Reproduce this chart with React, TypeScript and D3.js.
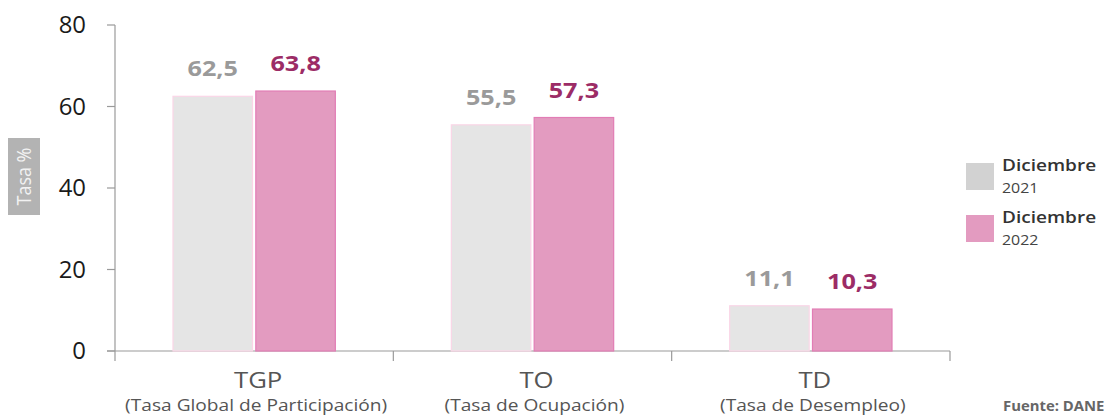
import React from "react";
import * as d3 from "d3";

const categories = ["TGP", "TO", "TD"];
const subtitles = ["(Tasa Global de Participación)", "(Tasa de Ocupación)", "(Tasa de Desempleo)"];
const series = ["Diciembre 2021", "Diciembre 2022"];
const legendLines = [["Diciembre", "2021"], ["Diciembre", "2022"]];
const values2021 = [62.5, 55.5, 11.1];
const values2022 = [63.8, 57.3, 10.3];
const yTicks = [0, 20, 40, 60, 80];

const fills = ["#e5e5e5", "#e39bc0"];
const strokes = ["#fad6e7", "#e27db5"];
const labelColors = ["#9a9a9a", "#9c2c66"];

const W = 1107;
const H = 418;
const FONT = "'Open Sans', 'Noto Sans', sans-serif";

type STProps = {
  x: number;
  y: number;
  sx?: number;
  anchor?: "start" | "middle" | "end";
  size: number;
  weight?: number;
  fill: string;
  dy?: string;
  children: React.ReactNode;
};

function ST({ x, y, sx = 1.15, anchor = "start", size, weight = 400, fill, dy, children }: STProps) {
  return (
    <g transform={`translate(${x},${y}) scale(${sx},1)`}>
      <text textAnchor={anchor} fontSize={size} fontWeight={weight} fill={fill} dy={dy}>
        {children}
      </text>
    </g>
  );
}

export default function App() {
  const x0 = d3.scaleBand<string>().domain(categories).range([115, 950]);
  const bw = x0.bandwidth();
  const x1 = d3
    .scaleBand<string>()
    .domain(series)
    .range([58, bw - 58])
    .paddingInner(0.04);
  const y = d3.scaleLinear().domain([0, 80]).range([351, 25]);
  const fmt = (v: number) => v.toFixed(1).replace(".", ",");
  const data = [values2021, values2022];
  const axisColor = "#9a9a9a";

  return (
    <svg
      width={W}
      height={H}
      style={{ position: "absolute", left: 0, top: 0, background: "#fff" }}
      fontFamily={FONT}
    >
      {/* y axis */}
      <line x1={115} x2={115} y1={y(80)} y2={y(0) + 10} stroke={axisColor} strokeWidth={1.2} />
      {yTicks.map((t) => (
        <g key={t}>
          <line x1={107} x2={115} y1={y(t)} y2={y(t)} stroke={axisColor} strokeWidth={1.2} />
          <ST x={86} y={y(t)} dy="0.36em" anchor="end" size={23} sx={1.04} fill="#1a1a1a">
            {t}
          </ST>
        </g>
      ))}
      {/* x axis */}
      <line x1={107} x2={950} y1={y(0)} y2={y(0)} stroke={axisColor} strokeWidth={1.2} />
      {categories.map((c) => (
        <line
          key={c}
          x1={(x0(c) as number) + bw}
          x2={(x0(c) as number) + bw}
          y1={y(0)}
          y2={y(0) + 10}
          stroke={axisColor}
          strokeWidth={1.2}
        />
      ))}
      {/* bars */}
      {categories.map((c, i) => (
        <g key={c} transform={`translate(${x0(c)},0)`}>
          {series.map((s, j) => {
            const v = data[j][i];
            const bx = x1(s) as number;
            return (
              <g key={s}>
                <rect
                  x={bx}
                  y={y(v)}
                  width={x1.bandwidth()}
                  height={y(0) - y(v)}
                  fill={fills[j]}
                  stroke={strokes[j]}
                  strokeWidth={1.2}
                />
                <ST
                  x={bx + x1.bandwidth() / 2}
                  y={y(v) - 20}
                  anchor="middle"
                  size={21}
                  sx={1.2}
                  weight={700}
                  fill={labelColors[j]}
                >
                  {fmt(v)}
                </ST>
              </g>
            );
          })}
          <ST x={bw / 2 + 4} y={388} anchor="middle" size={22} sx={1.17} fill="#555">
            {c}
          </ST>
          <ST x={bw / 2 + 2} y={411} anchor="middle" size={16.5} sx={1.16} fill="#555">
            {subtitles[i]}
          </ST>
        </g>
      ))}
      {/* y title */}
      <rect x={8} y={138} width={32} height={77} fill="#b3b3b3" />
      <g transform={`translate(31,${(138 + 215) / 2}) rotate(-90) scale(1,1.15)`}>
        <text textAnchor="middle" fontSize={18} fill="#f2f2f2">
          Tasa %
        </text>
      </g>
      {/* legend */}
      {legendLines.map((l, j) => (
        <g key={j} transform={`translate(966,${163 + j * 52})`}>
          <rect width={28} height={27} fill={j === 0 ? "#d2d2d2" : fills[1]} />
          <ST x={36} y={8} size={17} sx={1.12} weight={600} fill="#333">
            {l[0]}
          </ST>
          <ST x={36} y={30} size={14.5} sx={1.1} fill="#444">
            {l[1]}
          </ST>
        </g>
      ))}
      <ST x={1003} y={411} size={13.5} sx={1.1} weight={700} fill="#666">
        Fuente: DANE
      </ST>
    </svg>
  );
}
